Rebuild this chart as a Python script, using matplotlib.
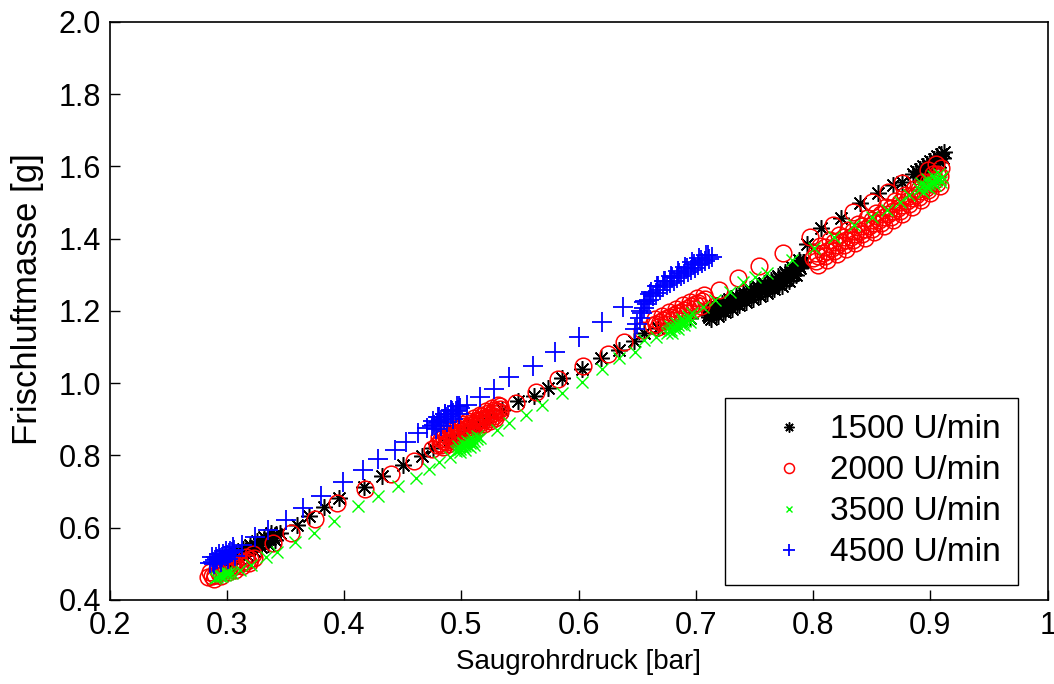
import numpy as np
import matplotlib.pyplot as plt

plt.rcParams['font.family'] = ['Liberation Sans', 'DejaVu Sans']

# ---- 1500 U/min (black asterisks) ----
x1500 = [0.300, 0.303, 0.306, 0.309, 0.312, 0.315, 0.318, 0.321, 0.324, 0.327,
         0.330, 0.333, 0.336, 0.339, 0.342, 0.345,
         0.302, 0.308, 0.314, 0.320, 0.326, 0.332, 0.338,
         0.305, 0.311, 0.317, 0.323, 0.329, 0.335, 0.341,
         0.360, 0.370, 0.383, 0.396, 0.417, 0.432, 0.450, 0.466, 0.476, 0.490,
         0.500, 0.510, 0.522, 0.535, 0.548, 0.562, 0.574, 0.586, 0.603, 0.619,
         0.634, 0.647, 0.656, 0.668, 0.682, 0.695,
         0.710, 0.713, 0.716, 0.719, 0.722, 0.725, 0.728, 0.731, 0.734, 0.737,
         0.740, 0.743, 0.746, 0.749, 0.752, 0.755, 0.758, 0.761, 0.764, 0.767,
         0.770, 0.773, 0.776, 0.779, 0.782, 0.785, 0.788, 0.791,
         0.710, 0.716, 0.722, 0.728, 0.734, 0.740, 0.746, 0.752, 0.758, 0.764,
         0.770, 0.776, 0.782, 0.788,
         0.713, 0.719, 0.725, 0.731, 0.737, 0.743, 0.749, 0.755, 0.761, 0.767,
         0.773, 0.779, 0.785,
         0.711, 0.717, 0.723, 0.729, 0.735, 0.741, 0.747, 0.753, 0.759, 0.765,
         0.771, 0.777, 0.783, 0.789,
         0.711, 0.717, 0.723, 0.729, 0.735, 0.741, 0.747, 0.753, 0.759, 0.765,
         0.771, 0.777, 0.783, 0.789,
         0.795, 0.807, 0.824, 0.840, 0.855, 0.868, 0.876,
         0.885, 0.888, 0.891, 0.894, 0.897, 0.900, 0.903, 0.906, 0.909, 0.912,
         0.890, 0.896, 0.902, 0.908, 0.911]
y1500 = [0.505, 0.510, 0.516, 0.521, 0.527, 0.532, 0.537, 0.543, 0.548, 0.554,
         0.559, 0.564, 0.570, 0.575, 0.581, 0.586,
         0.521, 0.531, 0.542, 0.553, 0.564, 0.575, 0.585,
         0.502, 0.513, 0.524, 0.535, 0.545, 0.556, 0.567,
         0.608, 0.632, 0.657, 0.682, 0.713, 0.743, 0.774, 0.799, 0.821, 0.842,
         0.862, 0.882, 0.903, 0.926, 0.950, 0.965, 0.987, 1.015, 1.039, 1.070,
         1.092, 1.117, 1.139, 1.152, 1.166, 1.180,
         1.188, 1.193, 1.199, 1.203, 1.207, 1.212, 1.217, 1.222, 1.226, 1.230,
         1.235, 1.240, 1.244, 1.249, 1.253, 1.257, 1.262, 1.266, 1.270, 1.275,
         1.280, 1.286, 1.292, 1.299, 1.306, 1.315, 1.325, 1.335,
         1.204, 1.215, 1.223, 1.233, 1.242, 1.251, 1.260, 1.269, 1.278, 1.286,
         1.296, 1.308, 1.322, 1.341,
         1.177, 1.187, 1.196, 1.206, 1.215, 1.224, 1.233, 1.242, 1.250, 1.260,
         1.270, 1.283, 1.299,
         1.198, 1.208, 1.217, 1.227, 1.236, 1.245, 1.254, 1.263, 1.271, 1.280,
         1.290, 1.302, 1.316, 1.336,
         1.182, 1.192, 1.201, 1.211, 1.220, 1.229, 1.238, 1.247, 1.255, 1.264,
         1.274, 1.286, 1.300, 1.320,
         1.385, 1.430, 1.457, 1.499, 1.527, 1.549, 1.557,
         1.578, 1.586, 1.593, 1.600, 1.607, 1.614, 1.621, 1.628, 1.634, 1.640,
         1.570, 1.582, 1.596, 1.612, 1.624]

# ---- 2000 U/min (red circles) ----
x2000 = [0.284, 0.287, 0.290, 0.293, 0.296, 0.299, 0.302, 0.305, 0.308, 0.311,
         0.314, 0.317, 0.320, 0.323,
         0.286, 0.292, 0.298, 0.304, 0.310, 0.316, 0.322,
         0.289, 0.295, 0.301, 0.307, 0.313, 0.319,
         0.339, 0.355, 0.375, 0.394, 0.418, 0.440, 0.460, 0.475,
         0.479, 0.482, 0.485, 0.488, 0.491, 0.494, 0.497, 0.500, 0.503, 0.506,
         0.509, 0.512, 0.515, 0.518, 0.521, 0.524, 0.527, 0.530, 0.533,
         0.481, 0.486, 0.491, 0.496, 0.501, 0.506, 0.511, 0.516, 0.521, 0.526,
         0.531,
         0.484, 0.489, 0.494, 0.499, 0.504, 0.509, 0.514, 0.519, 0.524, 0.529,
         0.483, 0.488, 0.493, 0.498, 0.503, 0.508, 0.513, 0.518, 0.523, 0.528,
         0.533,
         0.483, 0.488, 0.493, 0.498, 0.503, 0.508, 0.513, 0.518, 0.523, 0.528,
         0.533,
         0.547, 0.564, 0.582, 0.604, 0.625, 0.639, 0.654,
         0.663, 0.666, 0.669, 0.672, 0.675, 0.678, 0.681, 0.684, 0.687, 0.690,
         0.693, 0.696, 0.699, 0.702, 0.705, 0.708,
         0.665, 0.671, 0.677, 0.683, 0.689, 0.695, 0.701, 0.707,
         0.668, 0.674, 0.680, 0.686, 0.692, 0.698, 0.704,
         0.720, 0.736, 0.754, 0.774, 0.797, 0.817, 0.834, 0.850, 0.864, 0.876,
         0.800, 0.804, 0.808, 0.812, 0.816, 0.820, 0.824, 0.828, 0.832, 0.836,
         0.840, 0.844, 0.848, 0.852, 0.856, 0.860, 0.864, 0.868, 0.872, 0.876,
         0.880, 0.884, 0.888, 0.892, 0.896, 0.900, 0.904, 0.908,
         0.806, 0.814, 0.822, 0.830, 0.838, 0.846, 0.854, 0.862, 0.870, 0.878,
         0.886, 0.894, 0.902, 0.909, 0.905, 0.898,
         0.804, 0.812, 0.820, 0.828, 0.836, 0.844, 0.852, 0.860, 0.868, 0.876,
         0.884, 0.892, 0.900, 0.908,
         0.802, 0.810, 0.818, 0.826, 0.834, 0.842, 0.850, 0.858, 0.866, 0.874,
         0.882, 0.890, 0.898, 0.906,
         0.802, 0.810, 0.818, 0.826, 0.834, 0.842, 0.850, 0.858, 0.866, 0.874,
         0.882, 0.890, 0.898, 0.906]
y2000 = [0.462, 0.466, 0.470, 0.475, 0.479, 0.483, 0.487, 0.492, 0.496, 0.500,
         0.504, 0.508, 0.513, 0.517,
         0.477, 0.485, 0.494, 0.502, 0.511, 0.519, 0.528,
         0.458, 0.467, 0.476, 0.484, 0.493, 0.501,
         0.558, 0.585, 0.625, 0.668, 0.707, 0.749, 0.785, 0.818,
         0.830, 0.835, 0.841, 0.846, 0.852, 0.857, 0.862, 0.868, 0.873, 0.879,
         0.884, 0.890, 0.895, 0.900, 0.906, 0.911, 0.917, 0.922, 0.928,
         0.850, 0.859, 0.868, 0.877, 0.886, 0.895, 0.904, 0.913, 0.922, 0.931,
         0.940,
         0.823, 0.832, 0.841, 0.850, 0.859, 0.868, 0.877, 0.886, 0.895, 0.904,
         0.845, 0.854, 0.863, 0.872, 0.881, 0.890, 0.899, 0.908, 0.917, 0.926,
         0.936,
         0.829, 0.838, 0.847, 0.856, 0.865, 0.874, 0.883, 0.892, 0.901, 0.910,
         0.920,
         0.945, 0.976, 1.012, 1.048, 1.081, 1.114, 1.147,
         1.160, 1.165, 1.170, 1.174, 1.179, 1.184, 1.189, 1.194, 1.198, 1.203,
         1.208, 1.213, 1.218, 1.222, 1.227, 1.232,
         1.177, 1.187, 1.196, 1.206, 1.216, 1.225, 1.235, 1.244,
         1.156, 1.165, 1.175, 1.185, 1.194, 1.204, 1.213,
         1.258, 1.291, 1.325, 1.360, 1.405, 1.438, 1.474, 1.502, 1.530, 1.554,
         1.345, 1.352, 1.360, 1.367, 1.375, 1.382, 1.390, 1.397, 1.405, 1.412,
         1.420, 1.428, 1.436, 1.444, 1.452, 1.460, 1.468, 1.476, 1.485, 1.494,
         1.503, 1.512, 1.521, 1.531, 1.541, 1.551, 1.561, 1.572,
         1.380, 1.396, 1.410, 1.425, 1.440, 1.456, 1.472, 1.488, 1.504, 1.520,
         1.538, 1.556, 1.578, 1.596, 1.606, 1.590,
         1.327, 1.342, 1.357, 1.372, 1.387, 1.403, 1.419, 1.435, 1.451, 1.469,
         1.487, 1.506, 1.526, 1.547,
         1.361, 1.376, 1.390, 1.405, 1.420, 1.436, 1.452, 1.468, 1.484, 1.501,
         1.519, 1.538, 1.558, 1.579,
         1.337, 1.352, 1.366, 1.381, 1.396, 1.412, 1.428, 1.444, 1.460, 1.477,
         1.495, 1.514, 1.534, 1.555]

# ---- 3500 U/min (green crosses) ----
x3500 = [0.290, 0.292, 0.294, 0.296, 0.298, 0.300, 0.302, 0.304, 0.293, 0.299,
         0.311, 0.321, 0.333, 0.343, 0.358, 0.374, 0.391, 0.412, 0.429, 0.446,
         0.461, 0.472, 0.481, 0.490,
         0.495, 0.497, 0.499, 0.501, 0.503, 0.505, 0.507, 0.509, 0.511, 0.513,
         0.497, 0.501, 0.505, 0.509, 0.513,
         0.499, 0.503, 0.507, 0.511,
         0.516, 0.530, 0.541, 0.555, 0.569, 0.586, 0.603, 0.620, 0.634, 0.648,
         0.656, 0.666, 0.675,
         0.677, 0.679, 0.681, 0.683, 0.685, 0.687, 0.689, 0.691, 0.693, 0.695,
         0.678, 0.683, 0.688, 0.693,
         0.680, 0.685, 0.690, 0.695,
         0.697, 0.706, 0.716, 0.729, 0.740, 0.750, 0.761, 0.782, 0.801, 0.818,
         0.835, 0.850, 0.863, 0.874, 0.882,
         0.890, 0.893, 0.896, 0.899, 0.902, 0.905, 0.908, 0.910,
         0.892, 0.897, 0.902, 0.907,
         0.894, 0.899, 0.904, 0.909]
y3500 = [0.461, 0.463, 0.465, 0.467, 0.469, 0.471, 0.473, 0.475, 0.470, 0.476,
         0.483, 0.497, 0.519, 0.533, 0.561, 0.585, 0.619, 0.660, 0.688, 0.716,
         0.738, 0.763, 0.782, 0.796,
         0.812, 0.816, 0.819, 0.823, 0.826, 0.830, 0.833, 0.837, 0.840, 0.844,
         0.826, 0.833, 0.840, 0.847, 0.854,
         0.809, 0.816, 0.823, 0.830,
         0.848, 0.871, 0.890, 0.912, 0.940, 0.973, 1.003, 1.039, 1.070, 1.087,
         1.120, 1.128, 1.139,
         1.144, 1.148, 1.152, 1.156, 1.160, 1.164, 1.168, 1.172, 1.176, 1.180,
         1.157, 1.167, 1.177, 1.187,
         1.140, 1.150, 1.160, 1.170,
         1.194, 1.211, 1.230, 1.253, 1.280, 1.295, 1.305, 1.341, 1.374, 1.405,
         1.438, 1.460, 1.480, 1.502, 1.521,
         1.537, 1.542, 1.546, 1.551, 1.556, 1.560, 1.565, 1.570,
         1.555, 1.565, 1.572, 1.580,
         1.530, 1.540, 1.548, 1.556]

# ---- 4500 U/min (blue plus) ----
x4500 = [0.286, 0.288, 0.290, 0.292, 0.294, 0.296, 0.298, 0.300, 0.302, 0.304,
         0.306, 0.291, 0.297, 0.303,
         0.287, 0.293, 0.299, 0.305,
         0.289, 0.295, 0.301, 0.307,
         0.313, 0.324, 0.335, 0.350, 0.365, 0.380, 0.399, 0.416, 0.429, 0.443,
         0.453, 0.463, 0.471,
         0.475, 0.477, 0.479, 0.481, 0.483, 0.485, 0.487, 0.489, 0.491, 0.493,
         0.495, 0.497, 0.499, 0.480, 0.486, 0.492, 0.498,
         0.476, 0.481, 0.486, 0.491, 0.496,
         0.478, 0.483, 0.488, 0.493, 0.498,
         0.505, 0.516, 0.528, 0.541, 0.561, 0.580, 0.600, 0.620, 0.638,
         0.648, 0.650, 0.652, 0.654, 0.656, 0.658, 0.660, 0.663, 0.666, 0.669,
         0.672, 0.675, 0.678, 0.681, 0.684, 0.687, 0.690, 0.693, 0.696, 0.699,
         0.702, 0.705, 0.708, 0.711, 0.714,
         0.653, 0.657, 0.661, 0.667, 0.673, 0.679, 0.685, 0.691, 0.697, 0.703,
         0.709,
         0.656, 0.662, 0.668, 0.674, 0.680, 0.686, 0.692, 0.698, 0.704, 0.710]
y4500 = [0.503, 0.506, 0.509, 0.512, 0.515, 0.518, 0.522, 0.525, 0.529, 0.533,
         0.538, 0.518, 0.526, 0.536,
         0.518, 0.526, 0.534, 0.545,
         0.498, 0.505, 0.512, 0.522,
         0.552, 0.574, 0.594, 0.621, 0.655, 0.687, 0.726, 0.760, 0.790, 0.815,
         0.837, 0.862, 0.876,
         0.880, 0.885, 0.889, 0.893, 0.897, 0.901, 0.905, 0.909, 0.914, 0.918,
         0.922, 0.926, 0.930, 0.905, 0.914, 0.924, 0.936,
         0.895, 0.905, 0.915, 0.925, 0.938,
         0.872, 0.882, 0.892, 0.902, 0.915,
         0.940, 0.962, 0.984, 1.017, 1.048, 1.087, 1.128, 1.170, 1.211,
         1.150, 1.165, 1.180, 1.195, 1.208, 1.220, 1.230, 1.242, 1.250, 1.258,
         1.265, 1.272, 1.278, 1.284, 1.290, 1.296, 1.302, 1.308, 1.314, 1.320,
         1.326, 1.332, 1.338, 1.344, 1.350,
         1.200, 1.228, 1.248, 1.268, 1.282, 1.296, 1.310, 1.322, 1.334, 1.346,
         1.356,
         1.225, 1.252, 1.268, 1.282, 1.295, 1.306, 1.318, 1.330, 1.342, 1.356]

labels = ['1500 U/min', '2000 U/min', '3500 U/min', '4500 U/min']
xticks = [0.2, 0.3, 0.4, 0.5, 0.6, 0.7, 0.8, 0.9, 1.0]
xticklabels = ['0.2', '0.3', '0.4', '0.5', '0.6', '0.7', '0.8', '0.9', '1']
yticks = [0.4, 0.6, 0.8, 1.0, 1.2, 1.4, 1.6, 1.8, 2.0]
yticklabels = ['0.4', '0.6', '0.8', '1.0', '1.2', '1.4', '1.6', '1.8', '2.0']

asterisk = (8, 2, 0)

fig = plt.figure(figsize=(10.54, 6.84), dpi=100)
ax = fig.add_axes([0.104, 0.123, 0.890, 0.845])

ax.plot(x1500, y1500, ls='none', marker=asterisk, ms=12, mec='k', mew=1.1, label=labels[0])
ax.plot(x2000, y2000, ls='none', marker='o', ms=12, mfc='none', mec='r', mew=1.1, label=labels[1])
ax.plot(x3500, y3500, ls='none', marker='x', ms=8, mec='#00ff00', mew=1.0, label=labels[2])
ax.plot(x4500, y4500, ls='none', marker='+', ms=14, mec='b', mew=1.3, label=labels[3])

ax.set_xlim(0.2, 1.0)
ax.set_ylim(0.4, 2.0)
ax.set_xticks(xticks)
ax.set_xticklabels(xticklabels)
ax.set_yticks(yticks)
ax.set_yticklabels(yticklabels)
ax.tick_params(direction='in', length=7, width=1, labelsize=22)
ax.tick_params(axis='x', pad=8)
ax.tick_params(axis='y', pad=6)
for s in ax.spines.values():
    s.set_linewidth(1.2)

ax.set_xlabel('Saugrohrdruck [bar]', fontsize=20)
ax.xaxis.set_label_coords(0.5, -0.085)
ax.set_ylabel('Frischluftmasse [g]', fontsize=25)
ax.yaxis.set_label_coords(-0.07, 0.52)

leg = ax.legend(loc='lower right', bbox_to_anchor=(0.968, 0.026), borderaxespad=0,
                fontsize=24, fancybox=False, edgecolor='k', framealpha=1,
                handlelength=2.8, handletextpad=-0.15, labelspacing=0.3,
                borderpad=0.5, markerscale=0.6)
leg.get_frame().set_linewidth(1.0)

plt.savefig('out.png')
